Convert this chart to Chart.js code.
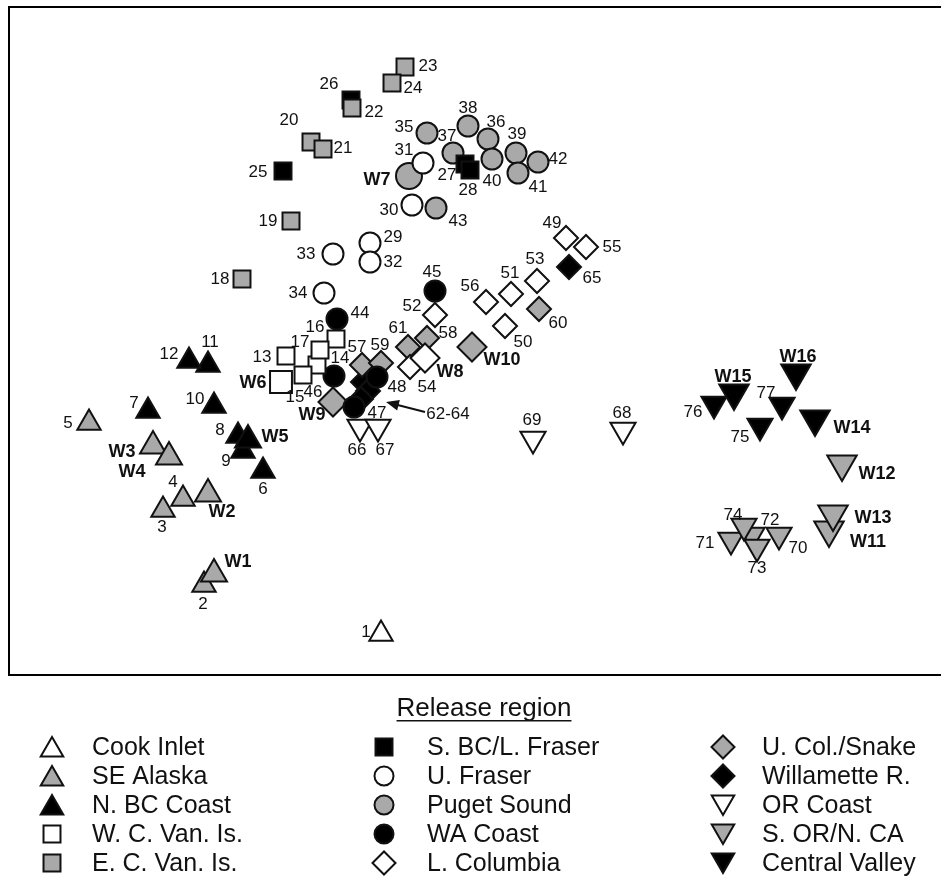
<!DOCTYPE html>
<html>
<head>
<meta charset="utf-8">
<script src="https://cdn.jsdelivr.net/npm/chart.js@4.4.1/dist/chart.umd.min.js"></script>
<style>
  html, body { margin: 0; padding: 0; background: #fff; }
  #wrap { width: 941px; height: 878px; }
</style>
</head>
<body>
<div id="wrap"><canvas id="chart" width="941" height="878"></canvas></div>
<script>
// ================= DATA (label, dim 1, dim 2) =================
const cookInlet = [["1", 381, 634]];
const seAlaska = [["2", 204, 585], ["3", 163, 510], ["4", 183, 499], ["5", 89, 423],
                  ["W1", 214, 574], ["W2", 208, 494], ["W3", 153, 446], ["W4", 169, 457]];
const nbcCoast = [["6", 263, 471], ["7", 148, 411], ["8", 238, 436], ["9", 243, 451],
                  ["10", 214, 406], ["11", 208, 365], ["12", 189, 361], ["W5", 248, 440]];
const wcVanIs = [["13", 286, 356], ["14", 317, 365], ["15", 303, 375], ["16", 336, 339],
                 ["17", 320, 350], ["W6", 281, 382]];
const ecVanIs = [["18", 242, 279], ["19", 291, 221], ["20", 311, 142], ["21", 323, 149],
                 ["22", 352, 108], ["23", 405, 67], ["24", 392, 83]];
const sbcFraser = [["25", 283, 171], ["26", 351, 100], ["27", 465, 164], ["28", 470, 170]];
const uFraser = [["29", 370, 243], ["30", 412, 205], ["31", 423, 163], ["32", 370, 262],
                 ["33", 333, 254], ["34", 324, 293]];
const pugetSound = [["35", 427, 133], ["36", 488, 139], ["37", 453, 153], ["38", 468, 126],
                    ["39", 516, 153], ["40", 492, 159], ["41", 518, 173], ["42", 538, 162],
                    ["43", 436, 208], ["W7", 409, 176]];
const waCoast = [["44", 337, 319], ["45", 435, 291], ["46", 334, 376], ["47", 354, 407],
                 ["48", 377, 377]];
const lColumbia = [["49", 566, 238], ["50", 505, 326], ["51", 511, 294], ["52", 435, 315],
                   ["53", 537, 281], ["54", 410, 367], ["55", 586, 247], ["56", 486, 302],
                   ["W8", 425, 358]];
const uColSnake = [["57", 362, 365], ["58", 427, 338], ["59", 381, 363], ["60", 539, 309],
                   ["61", 408, 347], ["W9", 333, 402], ["W10", 472, 347]];
const willamette = [["62", 363, 382], ["63", 368, 391], ["64", 361, 399], ["65", 569, 267]];
const orCoast = [["66", 360, 427], ["67", 378, 427], ["68", 623, 430], ["69", 533, 439]];
const sorNca = [["70", 779, 535], ["71", 731, 540], ["72", 752, 535], ["73", 757, 547],
                ["74", 744, 526], ["W11", 829, 530], ["W12", 842, 464], ["W13", 833, 514]];
const centralValley = [["75", 760, 426], ["76", 714, 404], ["77", 782, 405],
                       ["W14", 815, 419], ["W15", 734, 393], ["W16", 796, 373]];

const regionNames = ["Cook Inlet", "SE Alaska", "N. BC Coast", "W. C. Van. Is.", "E. C. Van. Is.",
  "S. BC/L. Fraser", "U. Fraser", "Puget Sound", "WA Coast", "L. Columbia",
  "U. Col./Snake", "Willamette R.", "OR Coast", "S. OR/N. CA", "Central Valley"];
const regionData = [cookInlet, seAlaska, nbcCoast, wcVanIs, ecVanIs, sbcFraser, uFraser,
  pugetSound, waCoast, lColumbia, uColSnake, willamette, orCoast, sorNca, centralValley];

// text labels next to the points (text, dim 1, dim 2)
const pointLabels = [
  ["1", 366, 632], ["2", 203, 604], ["3", 162, 527], ["4", 173, 482], ["5", 68, 423],
  ["6", 263, 489], ["7", 134, 403], ["8", 220, 430], ["9", 226, 461], ["10", 195, 399],
  ["11", 210, 342], ["12", 169, 354], ["W1", 238, 562], ["W2", 222, 512], ["W3", 122, 452],
  ["W4", 132, 472], ["W5", 275, 437], ["13", 262, 357], ["14", 340, 358], ["15", 295, 397],
  ["16", 315, 327], ["17", 300, 342], ["W6", 253, 383], ["18", 220, 279], ["19", 268, 221],
  ["20", 289, 120], ["21", 343, 148], ["22", 374, 112], ["23", 428, 66], ["24", 413, 88],
  ["25", 258, 172], ["26", 329, 84], ["27", 447, 175], ["28", 468, 190], ["29", 393, 237],
  ["30", 389, 210], ["31", 404, 150], ["32", 393, 262], ["33", 306, 254], ["34", 298, 293],
  ["35", 404, 127], ["36", 496, 122], ["37", 447, 136], ["38", 468, 108], ["39", 517, 134],
  ["40", 492, 181], ["41", 538, 187], ["42", 558, 159], ["43", 458, 221], ["W7", 377, 180],
  ["44", 360, 313], ["45", 432, 272], ["46", 313, 392], ["47", 377, 413], ["48", 397, 387],
  ["49", 552, 223], ["50", 523, 342], ["51", 510, 273], ["52", 412, 306], ["53", 535, 259],
  ["54", 427, 387], ["55", 612, 247], ["56", 470, 286], ["W8", 450, 372], ["57", 357, 347],
  ["58", 448, 333], ["59", 380, 345], ["60", 558, 323], ["61", 398, 328], ["W9", 312, 415],
  ["W10", 502, 360], ["62-64", 448, 414], ["65", 592, 278], ["66", 357, 450], ["67", 385, 450],
  ["68", 622, 413], ["69", 532, 420], ["70", 798, 548], ["71", 705, 543], ["72", 770, 520],
  ["73", 757, 568], ["74", 733, 515], ["75", 740, 437], ["76", 693, 412], ["77", 766, 393],
  ["W11", 868, 542], ["W12", 877, 474], ["W13", 873, 518], ["W14", 852, 428],
  ["W15", 733, 377], ["W16", 798, 357]
];

// arrow pointing at 62-64 (from, to)
const arrowLine = [[425, 412], [386, 402]];

// ================= STYLES =================
const GRAY = "#a9a9a9";
const EDGE = "#111";
// shape, fill for each region (legend order)
const regionStyle = [
  ["tri", "#fff"], ["tri", GRAY], ["tri", "#000"],
  ["rect", "#fff"], ["rect", GRAY], ["rect", "#000"],
  ["circle", "#fff"], ["circle", GRAY], ["circle", "#000"],
  ["diamond", "#fff"], ["diamond", GRAY], ["diamond", "#000"],
  ["down", "#fff"], ["down", GRAY], ["down", "#000"]
];
const shapeInfo = {
  tri:     { style: "triangle", rot: 0,   r: 13.5, rw: 15,   lr: 13 },
  rect:    { style: "rect",     rot: 0,   r: 12,   rw: 15.5, lr: 12 },
  circle:  { style: "circle",   rot: 0,   r: 10.5, rw: 13,   lr: 9.5 },
  diamond: { style: "rectRot",  rot: 0,   r: 12,   rw: 14.5, lr: 11.5 },
  down:    { style: "triangle", rot: 180, r: 14.5, rw: 17,   lr: 13 }
};

const datasets = regionData.map((arr, i) => {
  const s = shapeInfo[regionStyle[i][0]];
  return {
    label: regionNames[i],
    data: arr.map(([t, x, y]) => ({ x: x, y: y, w: t[0] === "W" })),
    pointStyle: s.style,
    rotation: s.rot,
    pointRadius: ctx => (ctx.raw && ctx.raw.w ? s.rw : s.r),
    pointHoverRadius: ctx => (ctx.raw && ctx.raw.w ? s.rw : s.r),
    backgroundColor: regionStyle[i][1],
    borderColor: EDGE,
    borderWidth: 2,
    hoverBorderWidth: 2,
    showLine: false,
    clip: false
  };
});

// ================= PLUGINS =================
const framePlugin = {
  id: "frame",
  beforeDatasetsDraw(chart) {
    const a = chart.chartArea, ctx = chart.ctx;
    ctx.save();
    ctx.strokeStyle = "#000";
    ctx.lineWidth = 2;
    ctx.strokeRect(a.left, a.top, a.right - a.left + 20, a.bottom - a.top);
    ctx.restore();
  }
};

const labelPlugin = {
  id: "pointText",
  afterDatasetsDraw(chart) {
    const ctx = chart.ctx, xs = chart.scales.x, ys = chart.scales.y;
    ctx.save();
    ctx.fillStyle = "#111";
    ctx.textAlign = "center";
    ctx.textBaseline = "middle";
    pointLabels.forEach(([t, x, y]) => {
      ctx.font = t[0] === "W" ? "bold 18px 'Liberation Sans', Arial, sans-serif"
                              : "17px 'Liberation Sans', Arial, sans-serif";
      ctx.fillText(t, xs.getPixelForValue(x), ys.getPixelForValue(y));
    });
    // arrow
    const x1 = xs.getPixelForValue(arrowLine[0][0]), y1 = ys.getPixelForValue(arrowLine[0][1]);
    const x2 = xs.getPixelForValue(arrowLine[1][0]), y2 = ys.getPixelForValue(arrowLine[1][1]);
    const ang = Math.atan2(y2 - y1, x2 - x1);
    ctx.strokeStyle = "#111";
    ctx.lineWidth = 2;
    ctx.beginPath();
    ctx.moveTo(x1, y1);
    ctx.lineTo(x2 - Math.cos(ang) * 8, y2 - Math.sin(ang) * 8);
    ctx.stroke();
    ctx.beginPath();
    ctx.moveTo(x2, y2);
    ctx.lineTo(x2 - Math.cos(ang - 0.4) * 14, y2 - Math.sin(ang - 0.4) * 14);
    ctx.lineTo(x2 - Math.cos(ang + 0.4) * 14, y2 - Math.sin(ang + 0.4) * 14);
    ctx.closePath();
    ctx.fillStyle = "#111";
    ctx.fill();
    ctx.restore();
  }
};

function drawMarker(ctx, shape, x, y, fill) {
  const s = shapeInfo[shape];
  const opts = { pointStyle: s.style, radius: s.lr, rotation: s.rot, borderWidth: 2 };
  ctx.fillStyle = fill;
  ctx.strokeStyle = EDGE;
  ctx.lineWidth = 2;
  if (Chart.helpers && Chart.helpers.drawPoint) {
    Chart.helpers.drawPoint(ctx, opts, x, y);
  } else {
    ctx.beginPath();
    ctx.arc(x, y, opts.radius, 0, Math.PI * 2);
    ctx.fill();
    ctx.stroke();
  }
}

const legendPlugin = {
  id: "releaseLegend",
  afterDraw(chart) {
    const ctx = chart.ctx;
    ctx.save();
    ctx.fillStyle = "#111";
    ctx.font = "26px 'Liberation Sans', Arial, sans-serif";
    ctx.textAlign = "center";
    ctx.textBaseline = "middle";
    const title = "Release region";
    ctx.fillText(title, 484, 709);
    const tw = ctx.measureText(title).width;
    ctx.fillRect(484 - tw / 2, 720, tw, 1.5);

    const colMarker = [52, 384, 723];
    const colText = [92, 427, 762];
    const rowY = [747, 776, 805, 834, 863];
    ctx.textAlign = "left";
    ctx.font = "25px 'Liberation Sans', Arial, sans-serif";
    regionNames.forEach((name, i) => {
      const c = Math.floor(i / 5), r = i % 5;
      const sh = regionStyle[i][0];
      const dy = sh === "tri" ? 3 : (sh === "down" ? -3 : 0);
      drawMarker(ctx, sh, colMarker[c], rowY[r] + dy, regionStyle[i][1]);
      ctx.fillStyle = "#111";
      ctx.fillText(name, colText[c], rowY[r] + 1);
    });
    ctx.restore();
  }
};

// ================= CHART =================
new Chart(document.getElementById("chart"), {
  type: "scatter",
  data: { datasets: datasets },
  options: {
    responsive: false,
    animation: false,
    layout: { autoPadding: false, padding: { left: 9, top: 7, right: 0, bottom: 203 } },
    scales: {
      x: { type: "linear", min: 9, max: 941, display: false },
      y: { type: "linear", min: 7, max: 675, reverse: true, display: false }
    },
    plugins: {
      legend: { display: false },
      tooltip: { enabled: false }
    },
    events: []
  },
  plugins: [framePlugin, labelPlugin, legendPlugin]
});
</script>
</body>
</html>
